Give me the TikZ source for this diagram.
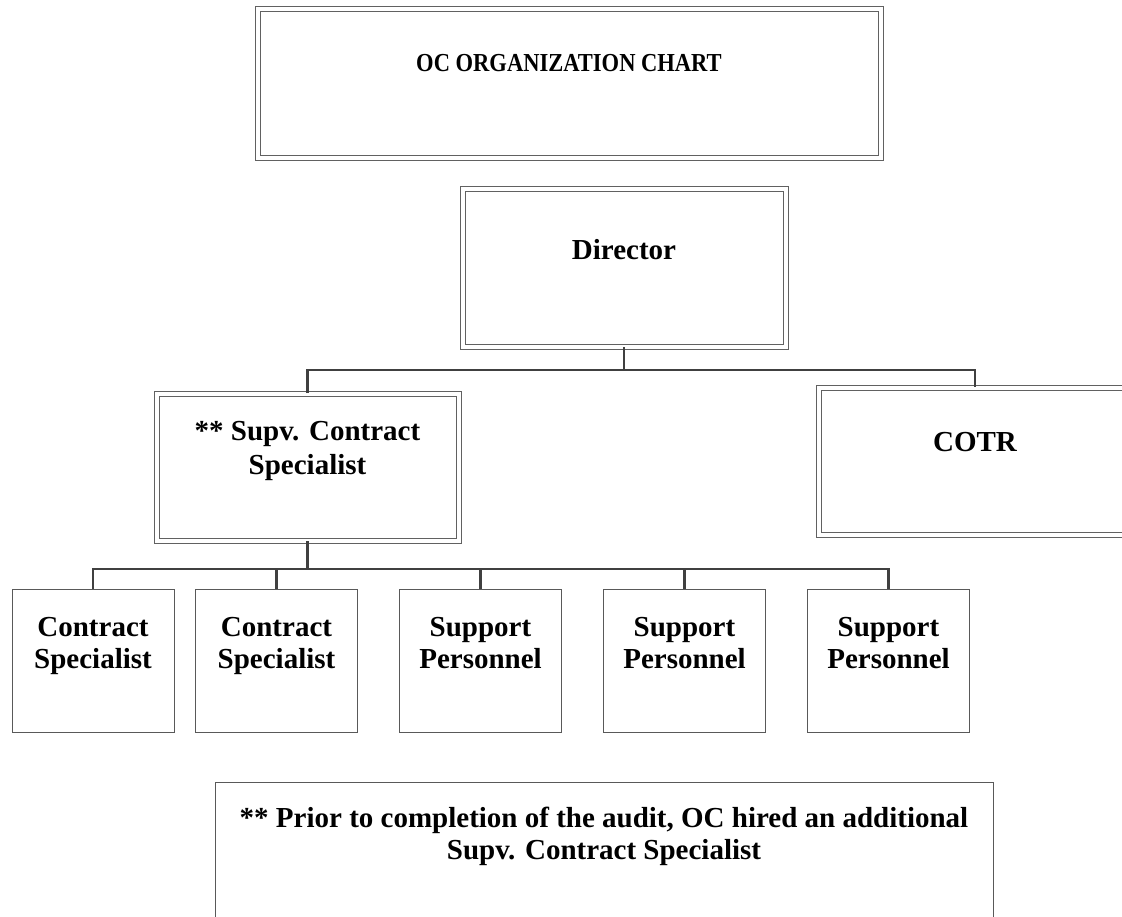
\documentclass[tikz,border=0pt]{standalone}
\usepackage{fontspec}
\setmainfont{Liberation Serif}
\begin{document}
\begin{tikzpicture}[x=0.75pt,y=-0.75pt,
  dbox/.style={draw=black!62, line width=0.75pt, double=white, double distance=3pt, rectangle, inner sep=0pt},
  sbox/.style={draw=black!65, line width=0.75pt, rectangle, inner sep=0pt},
  lbl/.style={inner sep=0pt, align=center, font=\fontsize{21.75}{24}\selectfont\bfseries},
  conn/.style={draw=black!75, line width=1.8pt}]
\useasboundingbox (0,0) rectangle (1122,917);
\clip (0,0) rectangle (1122,917);
% boxes
\node[dbox, minimum width=467.25pt, minimum height=111.75pt] (title) at (569,84) {};
\node[dbox, minimum width=242.25pt, minimum height=118.5pt] (dir) at (624,267.5) {};
\node[dbox, minimum width=226.5pt, minimum height=110.25pt] (sup) at (307.5,467) {};
\node[dbox, minimum width=234.75pt, minimum height=110.25pt] (cotr) at (975,461) {};
\foreach \n/\cx in {b1/93, b2/276.5, b3/480.5, b4/684.5, b5/888.5}
  \node[sbox, minimum width=121.5pt, minimum height=107.25pt] (\n) at (\cx,660.5) {};
\node[sbox, minimum width=583.5pt, minimum height=133.5pt] (note) at (604,871) {};
% texts
\node[lbl, anchor=base, font=\fontsize{16.9}{20}\selectfont\bfseries] (titletxt) at (569,71.7) {\scalebox{1}[1.15]{OC ORGANIZATION CHART}};
\node[lbl, anchor=base] (dirtxt) at (624,259.3) {Director};
\node[lbl, anchor=base] (cotrtxt) at (975,451.7) {COTR};
\node[lbl, anchor=north, font=\fontsize{21.75}{25.5}\selectfont\bfseries] (suptxt) at (307.5,421) {** Supv. Contract\\Specialist};
\node[lbl, anchor=north] (t1) at (93,617) {Contract\\Specialist};
\node[lbl, anchor=north] (t2) at (276.5,617) {Contract\\Specialist};
\node[lbl, anchor=north] (t3) at (480.5,617) {Support\\Personnel};
\node[lbl, anchor=north] (t4) at (684.5,617) {Support\\Personnel};
\node[lbl, anchor=north] (t5) at (888.5,617) {Support\\Personnel};
\node[lbl, anchor=north] (notetxt) at (604,807) {** Prior to completion of the audit, OC hired an additional\\Supv. Contract Specialist};
% connectors
\coordinate (bar1) at (0,370);
\coordinate (bar2) at (0,569);
\draw[conn] (dir.south) -- (dir.south |- bar1);
\draw[conn] (sup.north) |- (bar1 -| cotr.north) -- (cotr.north);
\draw[conn] (sup.south) -- (sup.south |- bar2);
\draw[conn] (b1.north) |- (bar2 -| b5.north) -- (b5.north);
\foreach \n in {b2,b3,b4}
  \draw[conn] (\n.north) -- (\n.north |- bar2);
\end{tikzpicture}
\end{document}
